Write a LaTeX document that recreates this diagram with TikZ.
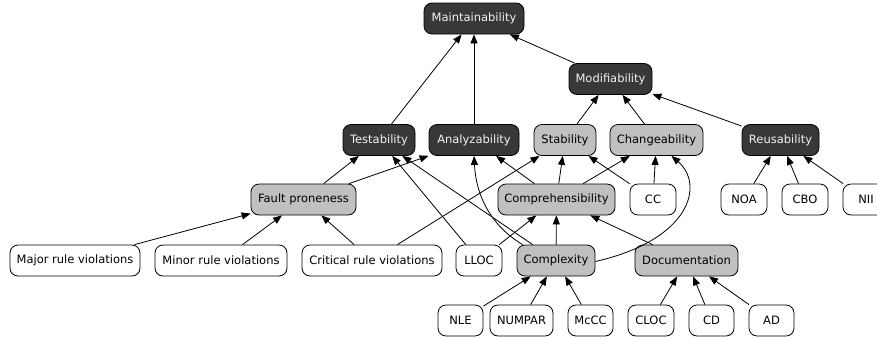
\documentclass[tikz,border=0pt]{standalone}
\usepackage{fontspec}
\setmainfont{DejaVu Sans}
\usetikzlibrary{arrows.meta}
\definecolor{darkfill}{HTML}{383838}
\definecolor{lightfill}{HTML}{C0C0C0}
\definecolor{darktext}{HTML}{F2F2F2}
\tikzset{
  box/.style={draw=black, line width=0.8pt, rounded corners=8pt, rectangle,
    minimum height=31pt, inner xsep=2pt, inner ysep=0pt,
    font=\fontsize{11.5}{13}\selectfont},
  darkbox/.style={box, fill=darkfill, text=darktext},
  greybox/.style={box, fill=lightfill, text=black},
  whitebox/.style={box, fill=white, text=black},
  arr/.style={line width=0.8pt, -{Triangle[length=9pt,width=7pt]}},
}
\begin{document}
\begin{tikzpicture}[x=1pt,y=-1pt]
\useasboundingbox (0,0) rectangle (877,338);
% row 0-1
\node[darkbox, minimum width=100pt] (maint) at (474,18.5) {Maintainability};
\node[darkbox, minimum width=83pt] (modif) at (610.5,79) {Modifiability};
% row 2
\node[darkbox, minimum width=72pt] (test) at (379,140) {Testability};
\node[darkbox, minimum width=90pt] (ana) at (474,140) {Analyzability};
\node[greybox, minimum width=62pt] (stab) at (565,140) {Stability};
\node[greybox, minimum width=93pt] (chg) at (656.5,140) {Changeability};
\node[darkbox, minimum width=77pt] (reus) at (780.5,140) {Reusability};
% row 3
\node[greybox, minimum width=105pt] (fp) at (303.5,199.5) {Fault proneness};
\node[greybox, minimum width=117pt] (comp) at (556.5,199.5) {Comprehensibility};
\node[whitebox, minimum width=46pt] (cc) at (653,199.5) {CC};
\node[whitebox, minimum width=46pt] (noa) at (744,199.5) {NOA};
\node[whitebox, minimum width=46pt] (cbo) at (805,199.5) {CBO};
\node[whitebox, minimum width=46pt] (nii) at (866,199.5) {NII};
% row 4
\node[whitebox, minimum width=130pt] (major) at (75,260.5) {Major rule violations};
\node[whitebox, minimum width=132pt] (minor) at (221,260.5) {Minor rule violations};
\node[whitebox, minimum width=140pt] (crit) at (372,260.5) {Critical rule violations};
\node[whitebox, minimum width=46pt] (lloc) at (479,260.5) {LLOC};
\node[greybox, minimum width=78pt] (cx) at (556,260.5) {Complexity};
\node[greybox, minimum width=103pt] (doc) at (686.5,260.5) {Documentation};
% row 5
\node[whitebox, minimum width=45pt] (nle) at (460.5,320.5) {NLE};
\node[whitebox, minimum width=63pt] (numpar) at (521.5,320.5) {NUMPAR};
\node[whitebox, minimum width=45pt] (mccc) at (590.5,320.5) {McCC};
\node[whitebox, minimum width=46pt] (cloc) at (651,320.5) {CLOC};
\node[whitebox, minimum width=45pt] (cd) at (711.5,320.5) {CD};
\node[whitebox, minimum width=45pt] (ad) at (771.5,320.5) {AD};
% edges
\draw[arr] (test) -- (maint);
\draw[arr] (ana) -- (maint);
\draw[arr] (modif) -- (maint);
\draw[arr] (stab) -- (modif);
\draw[arr] (chg) -- (modif);
\draw[arr] (reus) -- (modif);
\draw[arr] (fp) -- (test);
\draw[arr] (fp) -- (ana);
\draw[arr] (major) -- (fp);
\draw[arr] (minor) -- (fp);
\draw[arr] (crit) -- (fp);
\draw[arr] (crit) -- (stab);
\draw[arr] (lloc) -- (test);
\draw[arr] (cx) -- (test);
\draw[arr] ([xshift=6pt]cx.north west) .. controls (490,225) and (476,195) .. (ana.south);
\draw[arr] (comp) -- (ana);
\draw[arr] (comp) -- (stab);
\draw[arr] (comp) -- (chg);
\draw[arr] (cc) -- (stab);
\draw[arr] (cc) -- (chg);
\draw[arr] ([yshift=-1pt]cx.east) .. controls (690,240) and (705,185) .. ([xshift=15pt]chg.south);
\draw[arr] (lloc) -- (comp);
\draw[arr] (cx) -- (comp);
\draw[arr] (doc) -- (comp);
\draw[arr] (nle) -- (cx);
\draw[arr] (numpar) -- (cx);
\draw[arr] (mccc) -- (cx);
\draw[arr] (cloc) -- (doc);
\draw[arr] (cd) -- (doc);
\draw[arr] (ad) -- (doc);
\draw[arr] (noa) -- (reus);
\draw[arr] (cbo) -- (reus);
\draw[arr] (nii) -- (reus);
\end{tikzpicture}
\end{document}
